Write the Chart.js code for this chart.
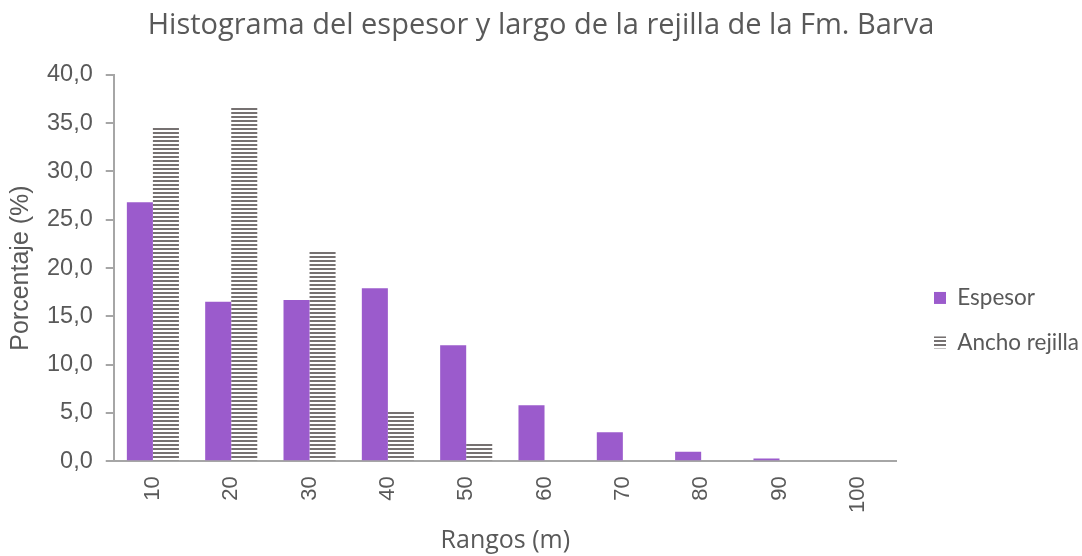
<!DOCTYPE html>
<html lang="es">
<head>
    <meta charset="UTF-8">
    <title>Histograma Fm. Barva</title>
    <style>
        body { margin: 0; background: #fff; }
        #wrap { width: 1082px; height: 556px; }
    </style>
</head>
<body>
<script src="https://cdn.jsdelivr.net/npm/chart.js"></script>
<div id="wrap"><canvas id="myChart" width="1082" height="556"></canvas></div>

<script>
const rangos = ['10', '20', '30', '40', '50', '60', '70', '80', '90', '100'];
const espesor = [26.8, 16.5, 16.7, 17.9, 12.0, 5.8, 3.0, 1.0, 0.3, 0.0];
const anchoRejilla = [34.6, 36.7, 21.7, 5.2, 1.8, 0, 0, 0, 0, 0];

// horizontal stripes for the second series
function stripes() {
    const c = document.createElement('canvas');
    c.width = 4; c.height = 4;
    const g = c.getContext('2d');
    g.fillStyle = '#767171';
    g.fillRect(0, 0, 4, 2);
    return g.createPattern(c, 'repeat');
}

const grey = '#595959';
const ctx = document.getElementById('myChart').getContext('2d');
const myChart = new Chart(ctx, {
    type: 'bar',
    data: {
        labels: rangos,
        datasets: [{
            label: 'Espesor',
            data: espesor,
            backgroundColor: '#9b5bcc'
        }, {
            label: 'Ancho rejilla',
            data: anchoRejilla,
            backgroundColor: stripes()
        }]
    },
    options: {
        responsive: false,
        animation: false,
        datasets: { bar: { categoryPercentage: 0.665, barPercentage: 1.0 } },
        layout: { padding: { left: -7, right: -7, bottom: 0 } },
        plugins: {
            title: {
                display: true,
                text: 'Histograma del espesor y largo de la rejilla de la Fm. Barva',
                color: grey,
                font: { family: 'Open Sans', size: 29, weight: 'normal' },
                padding: { top: 8, bottom: 32 }
            },
            legend: {
                position: 'right',
                title: { display: true, text: '', font: { size: 12 }, padding: { top: 0, bottom: 70 } },
                labels: {
                    color: grey,
                    font: { family: 'Lato', size: 22.5 },
                    boxWidth: 12,
                    boxHeight: 12,
                    padding: 22
                }
            },
            tooltip: { enabled: false }
        },
        scales: {
            x: {
                grid: { display: false },
                border: { color: '#a6a6a6', width: 2 },
                ticks: {
                    color: grey,
                    minRotation: 90,
                    maxRotation: 90,
                    padding: 7,
                    font: { family: 'Liberation Sans', size: 22 }
                },
                title: {
                    display: true,
                    text: 'Rangos (m)',
                    color: grey,
                    font: { family: 'Open Sans', size: 25 },
                    padding: { top: 6, bottom: 0 }
                }
            },
            y: {
                min: 0,
                max: 40,
                ticks: {
                    stepSize: 5,
                    color: grey,
                    padding: 13,
                    font: { family: 'Liberation Sans', size: 23.5 },
                    callback: v => v.toFixed(1).replace('.', ',')
                },
                grid: {
                    drawOnChartArea: false,
                    drawTicks: true,
                    tickLength: 8,
                    color: '#a6a6a6',
                    lineWidth: 2
                },
                border: { color: '#a6a6a6', width: 2 },
                title: {
                    display: true,
                    text: 'Porcentaje (%)',
                    color: grey,
                    font: { family: 'Liberation Sans', size: 25, lineHeight: 1.0 },
                    padding: { top: 16, bottom: 0 }
                }
            },
            // empty spacer between the plot and the legend
            gap: {
                type: 'linear',
                position: 'right',
                display: true,
                grid: { display: false },
                border: { display: false },
                ticks: { display: false },
                afterFit: s => { s.width = 15; }
            }
        }
    }
});
</script>
</body>
</html>
